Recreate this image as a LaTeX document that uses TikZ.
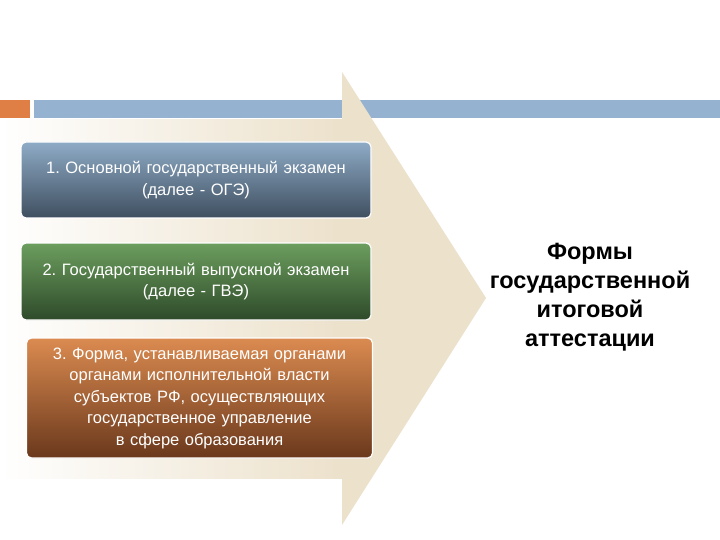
\documentclass[tikz,border=0pt]{standalone}
\usepackage{fontspec}
\setmainfont{Liberation Sans}
\usetikzlibrary{positioning}
\definecolor{barblue}{HTML}{95B3D0}
\definecolor{barorange}{HTML}{E07F45}
\definecolor{beige}{HTML}{ECE1CB}
\definecolor{b1top}{HTML}{8EABC6}
\definecolor{b1bot}{HTML}{3F4F60}
\definecolor{b2top}{HTML}{6C9E5E}
\definecolor{b2bot}{HTML}{2E4A2A}
\definecolor{b3top}{HTML}{DB8B50}
\definecolor{b3bot}{HTML}{6A381C}
\tikzset{
  formbox/.style={draw=white, line width=1.2pt, rounded corners=5pt,
    minimum width=350pt, text width=346pt, align=center,
    text=white, font=\fontsize{16.5}{21.5}\selectfont, inner sep=0pt}
}
\begin{document}
\frenchspacing
\begin{tikzpicture}[x=1pt,y=-1pt]
\useasboundingbox (0,0) rectangle (720,540);
\fill[white] (0,0) rectangle (720,540);
% top bar
\fill[barorange] (0,100) rectangle (30,118);
\fill[barblue] (34,100) rectangle (720,118);
% arrow body and head
\shade[left color=white, right color=beige] (0,120) rectangle (342,478);
\fill[beige] (342,72) -- (486,298) -- (342,525) -- cycle;
% boxes
\node[formbox, minimum height=76pt, top color=b1top, bottom color=b1bot] (f1) at (196,180)
  {1. Основной государственный экзамен\\(далее - ОГЭ)};
\node[formbox, minimum height=77pt, top color=b2top, bottom color=b2bot] (f2) at (196,281.5)
  {2. Государственный выпускной экзамен\\(далее - ГВЭ)};
\node[formbox, minimum width=345pt, minimum height=120pt, top color=b3top, bottom color=b3bot] (f3) at (199.5,398)
  {3. Форма, устанавливаемая органами\\органами исполнительной власти\\субъектов РФ, осуществляющих\\государственное управление\\в сфере образования};
% title
\node[align=center, font=\bfseries\fontsize{23.5}{29}\selectfont] (title) at (590,297)
  {Формы\\государственной\\итоговой\\аттестации};
\end{tikzpicture}
\end{document}
